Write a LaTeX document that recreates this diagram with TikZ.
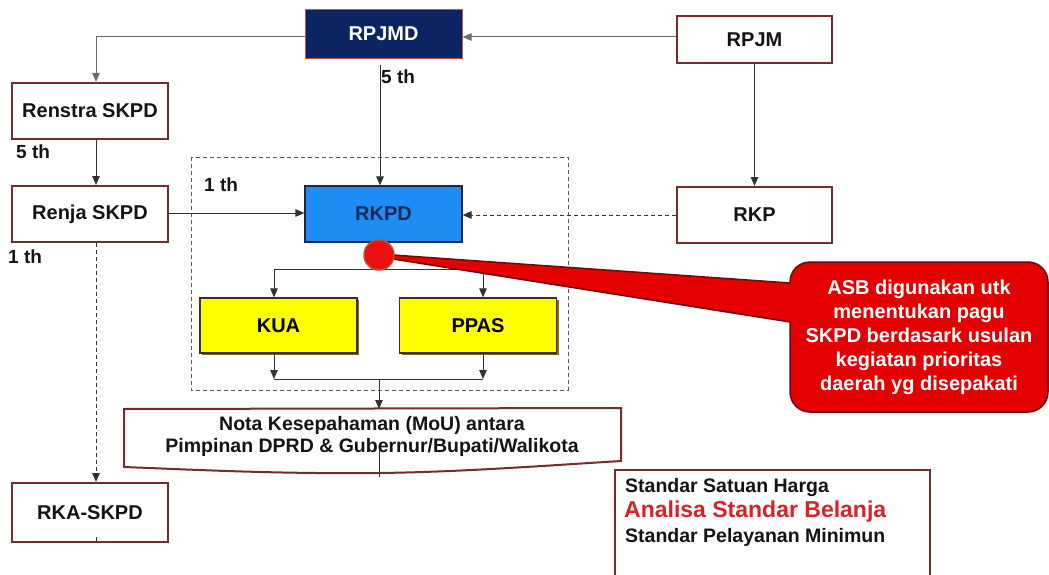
\documentclass[tikz,border=0pt]{standalone}
\usepackage{fontspec}
\setmainfont{Liberation Sans}
\usetikzlibrary{arrows.meta,shadows}
\definecolor{navy}{RGB}{12,36,97}
\definecolor{skyb}{RGB}{30,140,245}
\definecolor{boxbr}{RGB}{115,45,45}
\definecolor{lin}{RGB}{50,50,50}
\definecolor{ylw}{RGB}{255,255,0}
\definecolor{cred}{RGB}{228,0,0}
\definecolor{cdark}{RGB}{110,10,10}
\definecolor{tred}{RGB}{215,35,40}
\definecolor{rkpdtxt}{RGB}{25,40,80}
\begin{document}
\begin{tikzpicture}[x=1pt,y=-1pt,
 every node/.style={font=\bfseries\fontsize{20}{24}\selectfont},
 wbox/.style={draw=boxbr, line width=2pt, fill=white, minimum width=#1, minimum height=56pt, inner sep=0pt, text={rgb,255:red,20;green,20;blue,20}},
 navybox/.style={draw={rgb,255:red,190;green,90;blue,70}, line width=1pt, fill=navy, text=white, minimum width=157pt, minimum height=49pt, inner sep=0pt},
 bluebox/.style={draw={rgb,255:red,30;green,40;blue,70}, line width=1.2pt, fill=skyb, text=rkpdtxt, minimum width=157pt, minimum height=56pt, inner sep=0pt},
 ybox/.style={draw={rgb,255:red,60;green,50;blue,20}, line width=1.2pt, fill=ylw, minimum width=157pt, minimum height=55pt, inner sep=0pt,
   drop shadow={shadow xshift=2pt, shadow yshift=-2pt, fill={rgb,255:red,140;green,100;blue,40}, opacity=1}},
 arr/.style={-{Triangle[length=9pt,width=7.5pt]}, draw=lin, line width=1pt},
 dsh/.style={arr, dash pattern=on 4pt off 3pt},
 plainline/.style={draw=lin, line width=1pt},
 lbl/.style={inner sep=0pt, font=\bfseries\fontsize{19}{22}\selectfont, text={rgb,255:red,20;green,20;blue,20}},
 calloutbox/.style={draw=cdark, line width=1.5pt, fill=cred, rounded corners=20pt, minimum width=258pt, minimum height=150pt, inner sep=0pt, text=white, align=center}
]
\useasboundingbox (0,0) rectangle (1049,575);
\fill[white] (0,0) rectangle (1049,575);

% dashed grouping box
\draw[gray!70!black, line width=1pt, dash pattern=on 4pt off 3pt] (191,157) rectangle (568,390);

% nodes
\node[navybox] (rpjmd) at (383.5,34) {RPJMD};
\node[wbox=155pt, minimum height=47pt] (rpjm) at (754.5,39.5) {RPJM};
\node[wbox=156pt] (renstra) at (90,111) {Renstra SKPD};
\node[wbox=156pt] (renja) at (90,214) {Renja SKPD};
\node[bluebox] (rkpd) at (383.5,214) {RKPD};
\node[wbox=155pt] (rkp) at (754.5,215) {RKP};
\node[ybox] (kua) at (278.5,325.5) {KUA};
\node[ybox] (ppas) at (478,325.5) {PPAS};
\node[wbox=156pt, minimum height=59pt] (rka) at (90,512.5) {RKA-SKPD};

% Nota box (document shape)
\draw[draw=boxbr, line width=2pt, fill=white] (124,409) -- (621,408) -- (621,461)
  .. controls (540,466) and (460,472) .. (379,473)
  .. controls (280,474) and (200,470) .. (124,467) -- cycle;
\node[align=center, inner sep=0pt, font=\bfseries\fontsize{19.5}{22}\selectfont, text={rgb,255:red,20;green,20;blue,20}] (nota) at (372,436)
  {Nota Kesepahaman (MoU) antara\\Pimpinan DPRD \& Gubernur/Bupati/Walikota};
\coordinate (notatop) at (379,409);
\draw[plainline, line width=0.8pt] (379,448) -- (379,477);

% Standar box
\draw[draw=boxbr, line width=2pt, fill=white] (615,470) rectangle (930,590);
\node[anchor=west, inner sep=0pt, font=\bfseries\fontsize{19.5}{22}\selectfont, text={rgb,255:red,20;green,20;blue,20}] (ssh) at (625,487) {Standar Satuan Harga};
\node[anchor=west, inner sep=0pt, font=\bfseries\fontsize{23}{26}\selectfont, text=tred] (asbt) at (624,512) {Analisa Standar Belanja};
\node[anchor=west, inner sep=0pt, font=\bfseries\fontsize{19.5}{22}\selectfont, text={rgb,255:red,20;green,20;blue,20}] (spm) at (625,537) {Standar Pelayanan Minimun};

% connectors
\draw[arr, draw={rgb,255:red,110;green,110;blue,110}] ([yshift=2.5pt]rpjm.west) -- ([yshift=2.5pt]rpjm.west -| rpjmd.east);
\draw[arr, draw={rgb,255:red,110;green,110;blue,110}] ([yshift=-3pt]rpjmd.west) -| ([xshift=6pt]renstra.north);
\draw[arr] ([xshift=-3.5pt,yshift=-6pt]rpjmd.south) -- ([xshift=-3.5pt]rkpd.north);
\draw[arr] (rpjm.south) -- (rkp.north);
\draw[arr] ([xshift=6pt]renstra.south) -- ([xshift=6pt]renja.north);
\draw[arr] ([yshift=1pt]renja.east) -- ([yshift=1pt]renja.east -| rkpd.west);
\draw[dsh] (rkp.west) -- (rkp.west -| rkpd.east);
\draw[dsh] ([xshift=6pt]renja.south) -- ([xshift=6pt]rka.north);
\draw[plainline, line width=0.8pt] ([xshift=6pt,yshift=6pt]rka.south) -- ([xshift=6pt]rka.south);

\coordinate (br) at (379,269);
\coordinate (mgL) at (274,379);
\coordinate (mgR) at (483,379);
\coordinate (mg) at (379,379);
\draw[plainline] (rkpd.south -| br) -- (br);
\draw[arr] (br) -| ([xshift=-4.5pt]kua.north);
\draw[arr] (br) -| ([xshift=5pt]ppas.north);
\draw[arr] ([xshift=-4.5pt]kua.south) -- (mgL);
\draw[arr] ([xshift=5pt]ppas.south) -- (mgR);
\draw[plainline] (mgL) -- (mgR);
\draw[arr] (mg) -- (notatop);

% labels
\node[lbl, anchor=west] (l1) at (381,77) {5 th};
\node[lbl, anchor=west] (l2) at (16,152) {5 th};
\node[lbl, anchor=west] (l3) at (8,257) {1 th};
\node[lbl, anchor=west] (l4) at (204,185) {1 th};

% callout
\node[calloutbox] (asb) at (919,337) {ASB digunakan utk\\menentukan pagu\\SKPD berdasark usulan\\kegiatan prioritas\\daerah yg disepakati};
\fill[cred] (393,255) -- (796,283.4) -- (796,322.9) -- (393,259) -- cycle;
\draw[cdark, line width=1.5pt] (393,255) -- (790,283);
\draw[cdark, line width=1.5pt] (393,259) -- (790,322);
\node[circle, minimum size=30pt, inner sep=0pt, fill={rgb,255:red,235;green,15;blue,15}, draw={rgb,255:red,185;green,85;blue,40}, line width=1.5pt] (dot) at (379,255) {};
\end{tikzpicture}
\end{document}
